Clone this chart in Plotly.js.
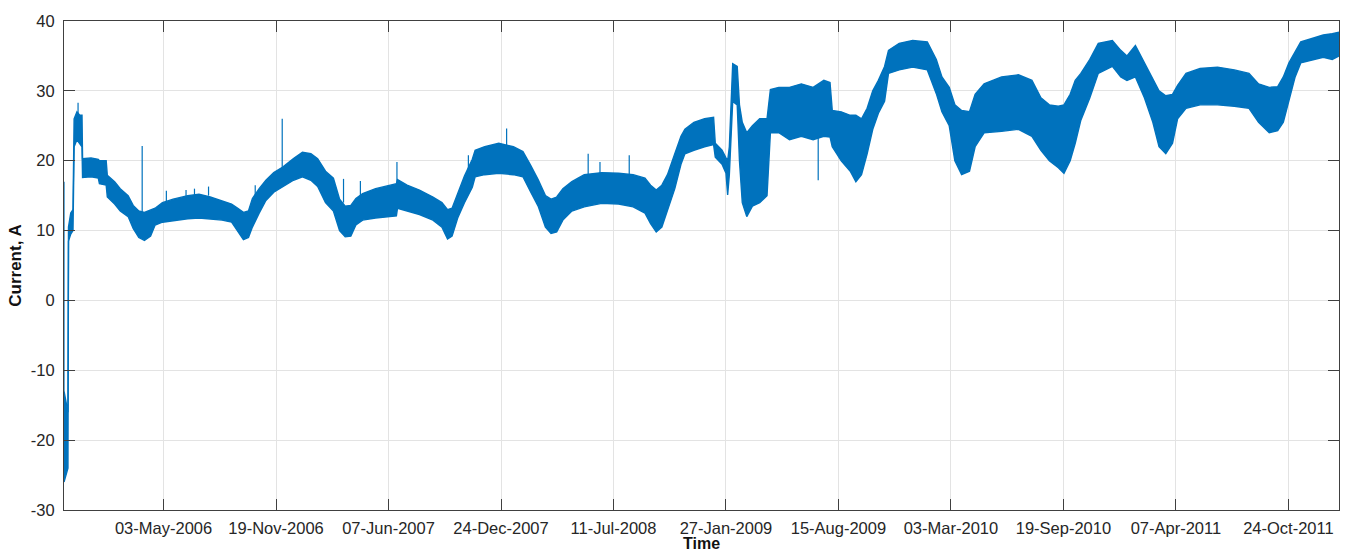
<!DOCTYPE html>
<html>
<head>
<meta charset="utf-8">
<script src="https://cdn.plot.ly/plotly-3.0.1.min.js"></script>
<style>
  html, body { margin: 0; padding: 0; background: #ffffff; }
  #chart { width: 1349px; height: 552px; }
</style>
</head>
<body>
<div id="chart"></div>
<script>
// Sampled envelope of the measured current: lower and upper edge of the
// noise band at each sample date (A).
const sampleDates = [
  "2005-11-07","2005-11-11","2005-11-14","2005-11-15","2005-11-19","2005-11-23",
  "2005-11-25","2005-11-30","2005-12-05","2005-12-09","2005-12-10","2005-12-25",
  "2006-01-07","2006-01-09","2006-01-21","2006-01-23","2006-02-05","2006-02-15",
  "2006-03-01","2006-03-10","2006-03-20","2006-03-30","2006-04-10","2006-04-18",
  "2006-05-01","2006-05-20","2006-06-15","2006-07-05","2006-07-25","2006-08-15",
  "2006-09-01","2006-09-12","2006-09-22","2006-10-01","2006-10-08","2006-10-20",
  "2006-11-01","2006-11-15","2006-12-01","2006-12-20","2007-01-05","2007-01-20",
  "2007-02-01","2007-02-15","2007-03-01","2007-03-12","2007-03-22","2007-04-01",
  "2007-04-10","2007-04-22","2007-05-15","2007-06-10","2007-06-21","2007-06-23",
  "2007-07-10","2007-08-01","2007-08-25","2007-09-10","2007-09-20","2007-09-28",
  "2007-10-08","2007-10-20","2007-11-03","2007-11-08","2007-11-25","2007-12-20",
  "2008-01-15","2008-02-01","2008-02-15","2008-02-28","2008-03-12","2008-03-22",
  "2008-04-01","2008-04-12","2008-04-28","2008-05-20","2008-06-20","2008-07-20",
  "2008-08-15","2008-09-05","2008-09-15","2008-09-25","2008-10-05","2008-10-15",
  "2008-10-28","2008-11-08","2008-11-15","2008-12-01","2008-12-20","2009-01-05",
  "2009-01-08","2009-01-20","2009-01-27","2009-01-30","2009-02-02","2009-02-08",
  "2009-02-16","2009-02-20","2009-02-25","2009-03-05","2009-03-15","2009-03-28",
  "2009-04-10","2009-04-16","2009-05-01","2009-05-20","2009-06-10","2009-07-01",
  "2009-07-20","2009-07-31","2009-08-04","2009-08-20","2009-09-05","2009-09-15",
  "2009-09-25","2009-10-05","2009-10-15","2009-10-25","2009-11-05","2009-11-12",
  "2009-12-01","2009-12-25","2010-01-20","2010-02-05","2010-02-15","2010-02-28",
  "2010-03-10","2010-03-22","2010-04-05","2010-04-15","2010-05-01","2010-06-01",
  "2010-07-01","2010-07-25","2010-08-10","2010-08-25","2010-09-10","2010-09-20",
  "2010-10-01","2010-10-10","2010-10-20","2010-11-05","2010-11-20","2010-12-15",
  "2010-12-30","2011-01-10","2011-01-25","2011-02-10","2011-02-25","2011-03-08",
  "2011-03-20","2011-04-01","2011-04-10","2011-04-25","2011-05-20","2011-06-20",
  "2011-07-20","2011-08-15","2011-09-01","2011-09-20","2011-10-05","2011-10-15",
  "2011-10-25","2011-11-05","2011-11-15","2011-12-05","2011-12-25","2012-01-10",
  "2012-01-22"
];

const currentLow = [
  -26, -25, -24, 8.5, 9.5, 10,
  22, 23, 22.5, 22, 17.6, 17.7,
  17.5, 16.7, 16.5, 14.8, 13.8, 12.8,
  12.0, 10.3, 9.0, 8.6, 9.2, 10.8,
  11.2, 11.4, 11.7, 11.8, 11.7, 11.5,
  11.2, 9.8, 8.7, 9.0, 10.5, 12.5,
  14.3, 15.5, 16.3, 17.2, 17.7, 17.2,
  16.3, 14.0, 12.8, 10.0, 9.1, 9.2,
  10.8, 11.5, 11.8, 12.0, 12.1, 13.2,
  12.8, 12.3, 11.5, 10.5, 8.8, 9.2,
  11.8, 14.0, 16.2, 17.7, 18.0, 18.2,
  18.0, 17.7, 15.5, 13.5, 10.5, 9.6,
  9.8, 11.5, 12.8, 13.4, 13.9, 13.8,
  13.4, 12.5, 11.0, 9.8, 10.5, 12.9,
  16.0, 19.5, 21.0, 21.5, 22.0, 22.3,
  20.5, 19.5, 18.2, 15.1, 18.0, 28.5,
  28.0, 20.0, 14.0, 12.0, 13.5, 14.0,
  15.0, 24.0, 24.0, 23.0, 23.5, 23.0,
  23.5, 23.4, 22.0, 20.0, 18.5, 17.0,
  18.0, 21.0, 24.5, 26.8, 28.5, 32.5,
  33.0, 33.4, 33.0, 29.6, 27.0, 25.0,
  20.0, 18.0, 18.5, 22.0, 24.0, 24.2,
  24.5, 23.5, 21.5, 20.0, 19.0, 18.2,
  20.0, 22.5, 25.8, 29.0, 32.5, 33.5,
  32.0, 31.5, 32.0, 29.0, 25.5, 22.0,
  21.0, 22.5, 26.0, 27.5, 28.0, 28.0,
  27.8, 27.5, 25.5, 24.0, 24.3, 25.5,
  28.5, 32.0, 34.0, 34.4, 34.8, 34.5,
  35.0
];

const currentHigh = [
  -13, -15, -16, 10.5, 12.5, 13,
  26, 27, 26.5, 26.5, 20.3, 20.4,
  20.2, 20.0, 20.0, 17.9, 17.0, 16.0,
  15.0, 13.6, 12.8, 12.6, 12.9, 13.2,
  14.0, 14.5, 15.0, 15.2, 14.8, 14.2,
  13.8, 13.2, 12.6, 12.8, 14.6, 16.0,
  17.2, 18.3, 19.1, 20.3, 21.2, 21.0,
  20.3, 18.5, 17.5, 14.5, 13.5, 13.6,
  14.6, 15.3, 16.0, 16.5, 16.7, 17.3,
  16.5, 15.8, 14.8, 14.0, 13.0, 13.2,
  15.3, 17.8, 20.2, 21.5, 22.0, 22.5,
  22.0, 21.3, 19.3, 17.3, 15.0, 14.5,
  14.8, 16.0, 17.0, 18.0, 18.3, 18.2,
  18.0, 17.5, 16.5, 15.8, 16.5, 18.0,
  21.0, 23.5, 24.5, 25.5, 26.0, 26.2,
  22.5, 21.5, 20.4, 20.0, 22.0, 33.9,
  33.5, 28.0, 25.5, 24.0, 25.0, 26.0,
  26.0, 30.2, 30.5, 30.5, 31.0, 30.5,
  31.5, 31.2, 27.2, 27.0, 26.5, 26.5,
  26.0, 27.5, 30.0, 31.5, 33.5, 35.8,
  36.8, 37.2, 37.0, 34.5, 32.0, 30.5,
  28.0, 27.2, 27.0, 29.5, 31.0, 32.0,
  32.3, 31.5, 29.0, 28.0, 27.8, 28.0,
  29.5, 31.5, 32.5, 34.5, 36.8, 37.2,
  35.8, 35.0, 36.5, 34.0, 31.5, 30.0,
  29.3, 29.5, 30.8, 32.5, 33.2, 33.4,
  33.0, 32.5, 31.0, 30.5, 30.6, 32.0,
  34.0, 35.5, 37.0, 37.5, 38.0, 38.2,
  38.4
];

// Isolated transients: date, value at the band edge, value at the tip (A).
const spikeDates = [
  "2005-11-07","2005-12-02","2006-03-26","2006-05-08","2006-06-12","2006-06-27",
  "2006-07-22","2006-10-13","2006-11-30","2007-03-19","2007-04-18","2007-06-22",
  "2007-10-27","2008-01-03","2008-05-27","2008-06-17","2008-08-08","2009-07-10"
];
const spikeFrom = [
  -13, 26, 12.5, 14, 14.6, 15,
  15, 14.5, 19, 14, 15, 16.5,
  17, 22, 18, 18.2, 18, 23.4
];
const spikeTo = [
  17, 28.3, 22.1, 15.7, 15.8, 16.0,
  16.3, 16.5, 26.0, 17.4, 17.1, 19.8,
  20.8, 24.6, 21.0, 19.8, 20.8, 17.2
];

// Axis ticks every 200 days
const tickDates = [
  "2006-05-03","2006-11-19","2007-06-07","2007-12-24","2008-07-11","2009-01-27",
  "2009-08-15","2010-03-03","2010-09-19","2011-04-07","2011-10-24"
];
const tickLabels = [
  "03-May-2006","19-Nov-2006","07-Jun-2007","24-Dec-2007","11-Jul-2008","27-Jan-2009",
  "15-Aug-2009","03-Mar-2010","19-Sep-2010","07-Apr-2011","24-Oct-2011"
];
const yTicks = [-30, -20, -10, 0, 10, 20, 30, 40];

const blue = "#0072BD";

const spikeX = [], spikeY = [];
spikeDates.forEach((d, i) => {
  spikeX.push(d, d, null);
  spikeY.push(spikeFrom[i], spikeTo[i], null);
});

const traces = [
  {
    x: sampleDates, y: currentLow, type: "scatter", mode: "lines",
    line: { color: blue, width: 1.4 }, hoverinfo: "skip", showlegend: false
  },
  {
    x: sampleDates, y: currentHigh, type: "scatter", mode: "lines",
    fill: "tonexty", fillcolor: blue,
    line: { color: blue, width: 1.4 }, showlegend: false
  },
  {
    x: spikeX, y: spikeY, type: "scatter", mode: "lines",
    line: { color: blue, width: 1.2 }, showlegend: false
  }
];

const family = "Liberation Sans, Arial, Helvetica, sans-serif";
const tickFont = { family: family, size: 16.5, color: "#262626" };

const layout = {
  width: 1349, height: 552, autosize: false,
  margin: { l: 64, r: 10, t: 21, b: 42 },
  paper_bgcolor: "#ffffff", plot_bgcolor: "#ffffff",
  showlegend: false,
  xaxis: {
    type: "date",
    range: ["2005-11-07", "2012-01-22"],
    tickmode: "array", tickvals: tickDates, ticktext: tickLabels,
    ticks: "inside", ticklen: 11, tickwidth: 1, tickcolor: "#404040",
    showline: true, linecolor: "#404040", linewidth: 1, mirror: "ticks",
    showgrid: true, gridcolor: "#e3e3e3", gridwidth: 1,
    zeroline: false,
    tickfont: tickFont,
    ticklabelstandoff: 3,
    title: { text: "<b>Time</b>", font: { family: family, size: 16, color: "#111111" }, standoff: 0 }
  },
  yaxis: {
    range: [-30, 40],
    tickmode: "array", tickvals: yTicks, ticktext: yTicks.map(String),
    ticks: "inside", ticklen: 11, tickwidth: 1, tickcolor: "#404040",
    showline: true, linecolor: "#404040", linewidth: 1, mirror: "ticks",
    showgrid: true, gridcolor: "#e3e3e3", gridwidth: 1,
    zeroline: false,
    tickfont: tickFont,
    ticklabelstandoff: 5,
    title: { text: "<b>Current, A</b>", font: { family: family, size: 17, color: "#111111" }, standoff: 4 }
  }
};

Plotly.newPlot("chart", traces, layout, { displayModeBar: false, staticPlot: true });
</script>
</body>
</html>
